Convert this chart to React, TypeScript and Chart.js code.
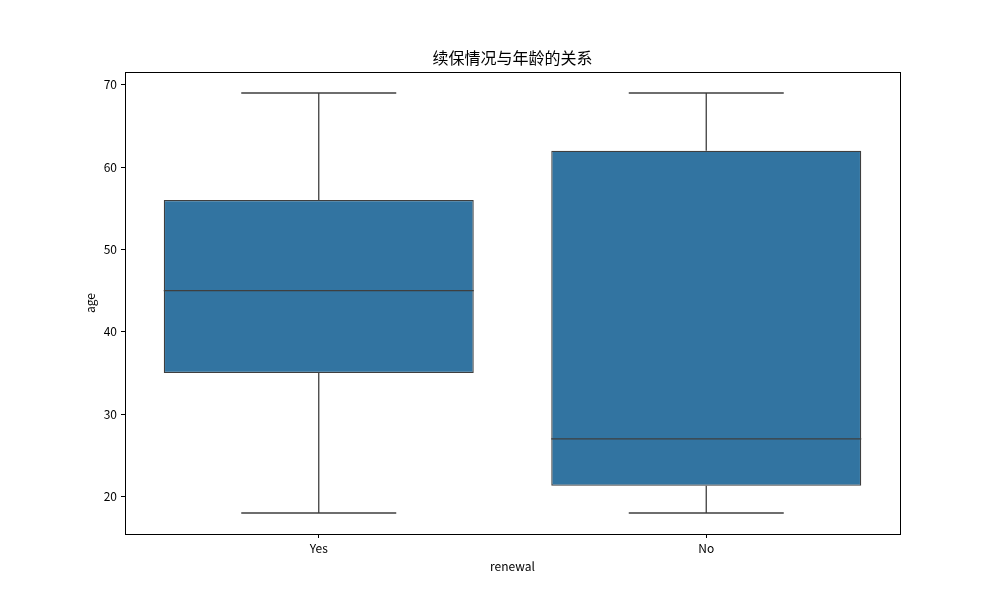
import React, { useEffect, useRef } from "react";
import { Chart, registerables } from "chart.js";

Chart.register(...registerables);

const categories = ["Yes", "No"];
const q1Values = [35, 21.3];
const medianValues = [45, 27];
const q3Values = [56, 62];
const minValues = [18, 18];
const maxValues = [69, 69];
const yTicks = [20, 30, 40, 50, 60, 70];

const BOX_FILL = "#3274a1";
const LINE = "#3f3f3f";
const FONT = "'Noto Sans CJK SC', 'DejaVu Sans', sans-serif";

const boxPlugin = {
  id: "boxExtras",
  afterDatasetsDraw(chart: any) {
    const { ctx, scales } = chart;
    const y = scales.y;
    const meta = chart.getDatasetMeta(0);
    ctx.save();
    ctx.strokeStyle = LINE;
    ctx.lineWidth = 1.3;
    meta.data.forEach((bar: any, i: number) => {
      const { x, width } = bar.getProps(["x", "width"], true);
      const half = width / 2;
      const capHalf = width / 4;
      const yMin = y.getPixelForValue(minValues[i]);
      const yMax = y.getPixelForValue(maxValues[i]);
      const yQ1 = y.getPixelForValue(q1Values[i]);
      const yQ3 = y.getPixelForValue(q3Values[i]);
      const yMed = y.getPixelForValue(medianValues[i]);
      ctx.beginPath();
      ctx.moveTo(x, yQ3);
      ctx.lineTo(x, yMax);
      ctx.moveTo(x - capHalf, yMax);
      ctx.lineTo(x + capHalf, yMax);
      ctx.moveTo(x, yQ1);
      ctx.lineTo(x, yMin);
      ctx.moveTo(x - capHalf, yMin);
      ctx.lineTo(x + capHalf, yMin);
      ctx.moveTo(x - half, yMed);
      ctx.lineTo(x + half, yMed);
      ctx.stroke();
    });
    ctx.restore();
  },
  afterDraw(chart: any) {
    const { ctx, chartArea } = chart;
    ctx.save();
    ctx.strokeStyle = "#000";
    ctx.lineWidth = 1;
    ctx.strokeRect(
      Math.round(chartArea.left) + 0.5,
      Math.round(chartArea.top) + 0.5,
      Math.round(chartArea.right - chartArea.left),
      Math.round(chartArea.bottom - chartArea.top)
    );
    ctx.restore();
  },
};

export default function App() {
  const ref = useRef<HTMLCanvasElement>(null);
  useEffect(() => {
    document.body.style.margin = "0";
    const chart = new Chart(ref.current as HTMLCanvasElement, {
      type: "bar",
      data: {
        labels: categories,
        datasets: [
          {
            data: categories.map((_, i) => [q1Values[i], q3Values[i]]) as any,
            backgroundColor: BOX_FILL,
            borderColor: LINE,
            borderWidth: 1.3,
            borderSkipped: false,
            categoryPercentage: 1,
            barPercentage: 0.8,
          },
        ],
      },
      options: {
        animation: false,
        responsive: false,
        layout: { padding: { left: 0, right: 100, top: 0, bottom: 0 } },
        plugins: {
          legend: { display: false },
          tooltip: { enabled: false },
          title: {
            display: true,
            text: "续保情况与年龄的关系",
            fullSize: false,
            color: "#000",
            font: { family: FONT, size: 16, weight: "normal", lineHeight: 1.2 },
            padding: { top: 48.4, bottom: 4.4 },
          },
        },
        scales: {
          x: {
            type: "category",
            offset: true,
            grid: { offset: false, drawOnChartArea: false, drawTicks: true, tickLength: 4, color: "#000" },
            border: { display: true, color: "#000", width: 1 },
            ticks: { color: "#000", padding: 3, font: { family: FONT, size: 12 } },
            title: {
              display: true,
              text: "renewal",
              color: "#000",
              font: { family: FONT, size: 12 },
              padding: { top: 0, bottom: 26 },
            },
            afterFit(scale: any) {
              scale.height = 66;
            },
          },
          y: {
            type: "linear",
            min: 15.45,
            max: 71.55,
            grid: { drawOnChartArea: false, drawTicks: true, tickLength: 4, color: "#000" },
            border: { display: true, color: "#000", width: 1 },
            ticks: { color: "#000", padding: 4, font: { family: FONT, size: 12 } },
            afterBuildTicks(scale: any) {
              scale.ticks = yTicks.map((v) => ({ value: v }));
            },
            title: {
              display: true,
              text: "age",
              color: "#000",
              font: { family: FONT, size: 12 },
              padding: { top: 83, bottom: 0 },
            },
            afterFit(scale: any) {
              scale.width = 125;
            },
          },
        },
      },
      plugins: [boxPlugin],
    });
    return () => chart.destroy();
  }, []);
  return (
    <div style={{ width: 1000, height: 600 }}>
      <canvas ref={ref} width={1000} height={600} />
    </div>
  );
}
